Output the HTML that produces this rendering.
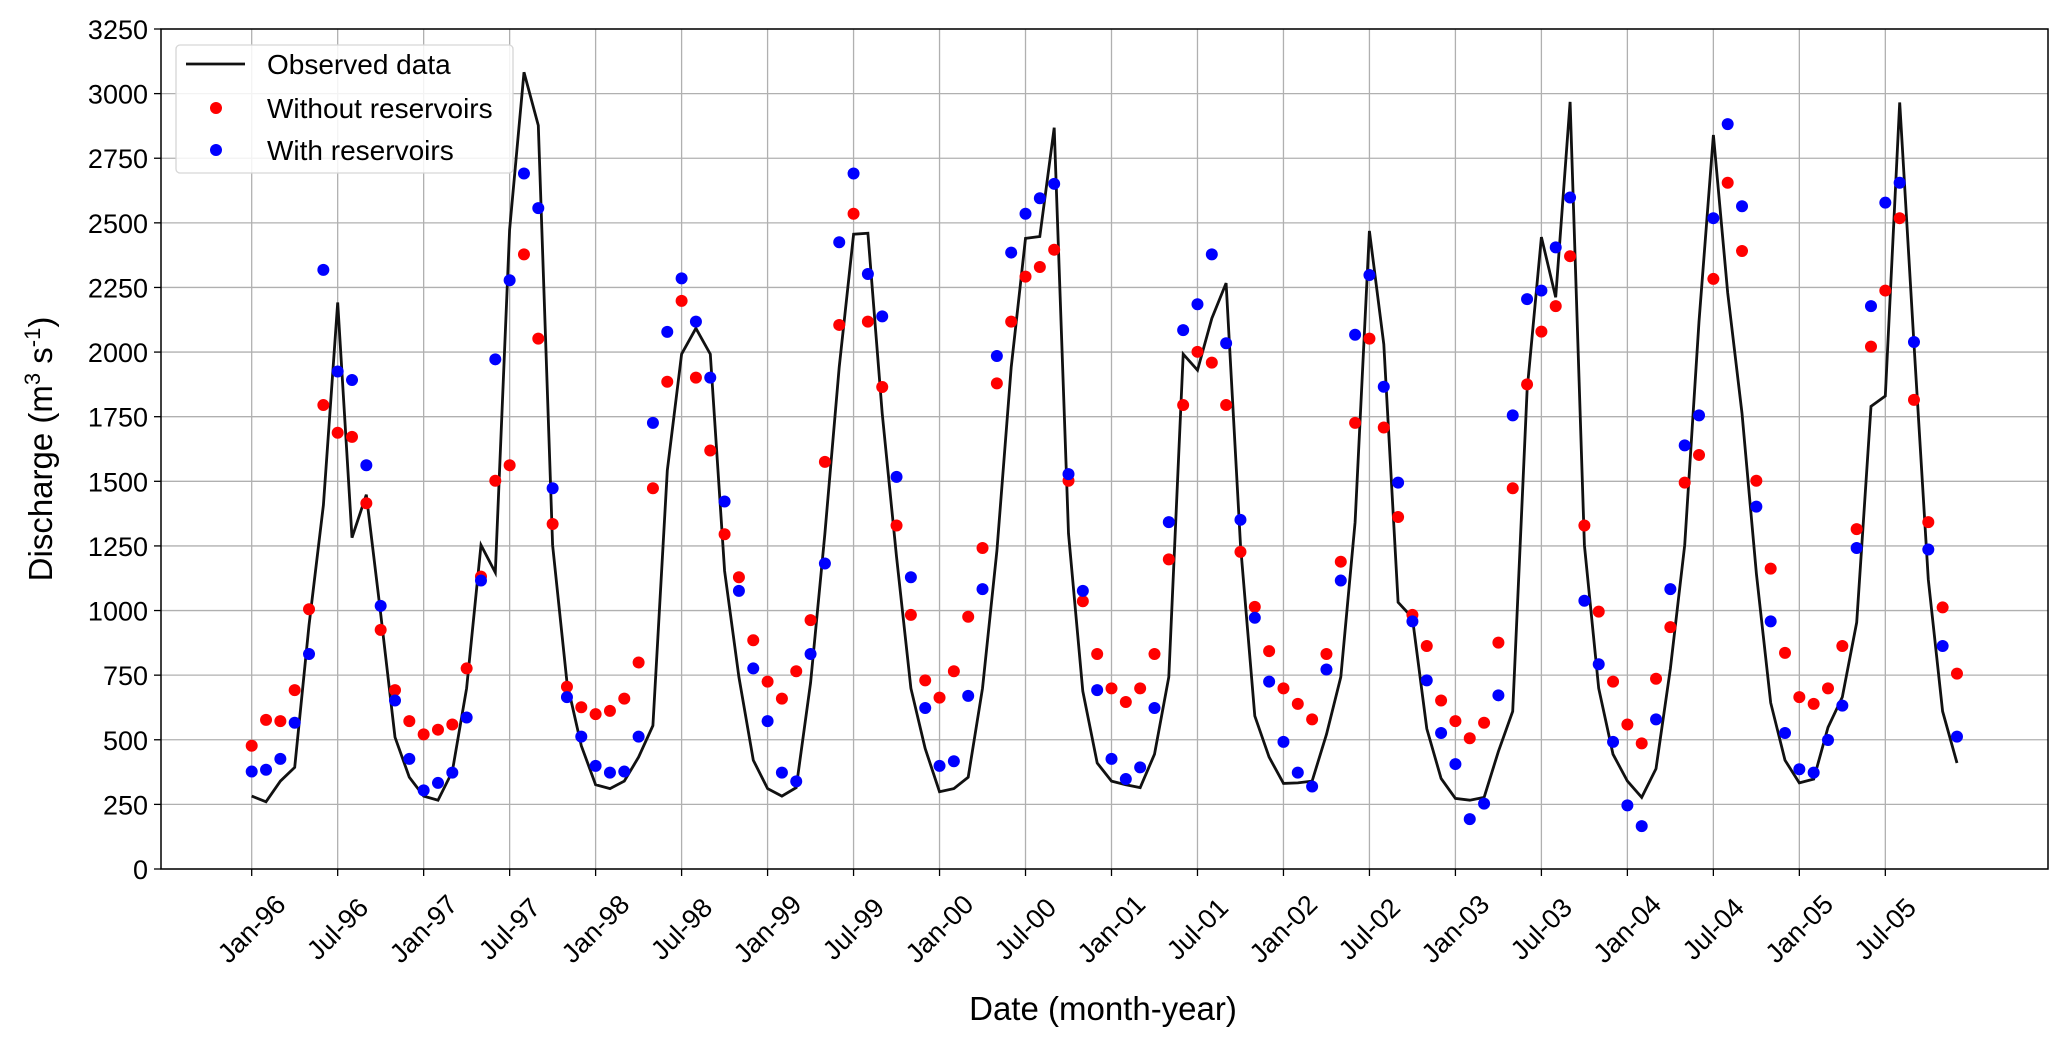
<!DOCTYPE html>
<html><head><meta charset="utf-8"><style>
html,body{margin:0;padding:0;background:#fff;}
svg{display:block;font-family:"Liberation Sans","DejaVu Sans",sans-serif;}
</style></head><body>
<svg id="chart" width="2067" height="1044" viewBox="0 0 2067 1044" xmlns="http://www.w3.org/2000/svg">
<g id="grid"></g>
<g id="series"></g>
<g id="axes"></g>
<text transform="translate(52,449) rotate(-90)" text-anchor="middle" font-size="33" fill="#000">Discharge (m<tspan font-size="22" dy="-12">3</tspan><tspan dy="12"> s</tspan><tspan font-size="22" dy="-12">-1</tspan><tspan dy="12">)</tspan></text>
<text x="1103" y="1020" text-anchor="middle" font-size="33" fill="#000">Date (month-year)</text>
<g>
<rect x="176" y="45" width="337" height="128" rx="4" fill="#fff" fill-opacity="0.85" stroke="#d6d6d6" stroke-width="1.3"/>
<line x1="186" y1="64" x2="245" y2="64" stroke="#111" stroke-width="2.8"/>
<text x="267" y="74" font-size="28">Observed data</text>
<circle cx="216" cy="108" r="6" fill="#ff0000"/>
<text x="267" y="118" font-size="28">Without reservoirs</text>
<circle cx="216" cy="150" r="6" fill="#0000ff"/>
<text x="267" y="160" font-size="28">With reservoirs</text>
</g>
</svg>
<script>
const observed = [282,260,340,393,943,1408,2192,1282,1448,987,510,355,
282,266,377,699,1253,1147,2473,3083,2877,1253,721,477,
326,311,340,433,555,1542,1992,2092,1992,1153,743,421,
311,282,315,721,1298,1941,2456,2460,1763,1209,699,466,
299,311,355,699,1231,1941,2440,2447,2868,1298,688,410,
340,326,315,444,743,1992,1930,2130,2267,1253,592,433,
331,333,340,521,743,1342,2469,2030,1032,972,543,350,
273,266,277,455,610,1852,2445,2212,2968,1253,699,444,
340,277,388,776,1253,2118,2840,2229,1763,1142,643,421,
333,348,548,665,954,1790,1830,2966,2030,1120,610,410];
const withoutRes = [477,577,572,692,1005,1795,1688,1672,1415,925,692,572,
521,539,559,776,1131,1502,1562,2378,2052,1335,705,626,
599,612,659,799,1473,1885,2198,1901,1619,1295,1129,885,
725,659,765,963,1575,2105,2535,2118,1865,1329,983,730,
663,765,976,1242,1879,2118,2292,2329,2396,1502,1036,832,
699,646,699,832,1198,1795,2001,1959,1795,1227,1014,843,
699,639,579,832,1189,1726,2052,1708,1362,983,863,652,
572,506,566,876,1473,1875,2079,2178,2371,1329,996,725,
559,486,736,936,1495,1602,2283,2655,2391,1502,1162,836,
665,639,699,863,1315,2021,2238,2518,1815,1342,1012,756];
const withRes = [377,384,426,566,832,2318,1925,1892,1562,1018,652,426,
304,333,373,586,1116,1972,2278,2691,2557,1473,665,512,
399,373,377,512,1726,2078,2285,2118,1901,1422,1076,776,
572,373,339,832,1182,2425,2691,2302,2138,1517,1129,623,
399,417,670,1083,1985,2385,2535,2595,2651,1528,1076,692,
426,348,393,623,1342,2085,2185,2378,2034,1351,972,725,
492,373,319,772,1116,2067,2298,1866,1495,958,730,526,
406,193,253,672,1755,2205,2238,2405,2598,1038,792,492,
246,166,579,1083,1639,1755,2518,2882,2564,1402,958,526,
386,373,499,632,1242,2178,2578,2655,2039,1236,863,512];
const yTicks = [0,250,500,750,1000,1250,1500,1750,2000,2250,2500,2750,3000,3250];
const xTickLabels = ["Jan-96","Jul-96","Jan-97","Jul-97","Jan-98","Jul-98","Jan-99","Jul-99","Jan-00","Jul-00","Jan-01","Jul-01","Jan-02","Jul-02","Jan-03","Jul-03","Jan-04","Jul-04","Jan-05","Jul-05"];

const NS = "http://www.w3.org/2000/svg";
const L = 161, R = 2048, T = 29, B = 869;
const yMax = 3250;
function xs(i){ return 251.7 + i * 14.33; }
function ys(v){ return B - v / yMax * (B - T); }
function mk(tag, attrs, parent){
  const e = document.createElementNS(NS, tag);
  for (const k in attrs) e.setAttribute(k, attrs[k]);
  parent.appendChild(e);
  return e;
}
const grid = document.getElementById('grid');
const axes = document.getElementById('axes');
const series = document.getElementById('series');

yTicks.forEach(v => {
  const y = ys(v);
  const g = mk('line', {x1:L, x2:R, y1:y, y2:y, stroke:'#b0b0b0', 'stroke-width':1.3}, grid);
  
  
  const t = mk('line', {x1:L-7, x2:L, y1:y, y2:y, stroke:'#000', 'stroke-width':1.3}, axes);
  
  
  const lb = mk('text', {x:L-13, y:y+10, 'text-anchor':'end', 'font-size':27, fill:'#000'}, axes);
  lb.textContent = v;
  
  
});
xTickLabels.forEach((s, k) => {
  const x = xs(k * 6);
  const g = mk('line', {x1:x, x2:x, y1:T, y2:B, stroke:'#b0b0b0', 'stroke-width':1.3}, grid);
  
  
  const t = mk('line', {x1:x, x2:x, y1:B, y2:B+7, stroke:'#000', 'stroke-width':1.3}, axes);
  
  
  const lb = mk('text', {x:0, y:0, 'text-anchor':'middle', 'dominant-baseline':'central', 'font-size':27, fill:'#000', transform:`translate(${x},${B+60}) rotate(-45)`}, axes);
  lb.textContent = s;
  
  
});
const frame = mk('rect', {x:L, y:T, width:R-L, height:B-T, fill:'none', stroke:'#000', 'stroke-width':1.5}, axes);



const pts = observed.map((v, i) => xs(i).toFixed(1) + ',' + ys(v).toFixed(1)).join(' ');
const line = mk('polyline', {points:pts, fill:'none', stroke:'#111', 'stroke-width':2.8, 'stroke-linejoin':'miter'}, series);



withoutRes.forEach((v, i) => {
  const c = mk('circle', {cx:xs(i), cy:ys(v), r:6, fill:'#ff0000'}, series);
  
  
});
withRes.forEach((v, i) => {
  const c = mk('circle', {cx:xs(i), cy:ys(v), r:6, fill:'#0000ff'}, series);
  
  
});
</script>
</body></html>
